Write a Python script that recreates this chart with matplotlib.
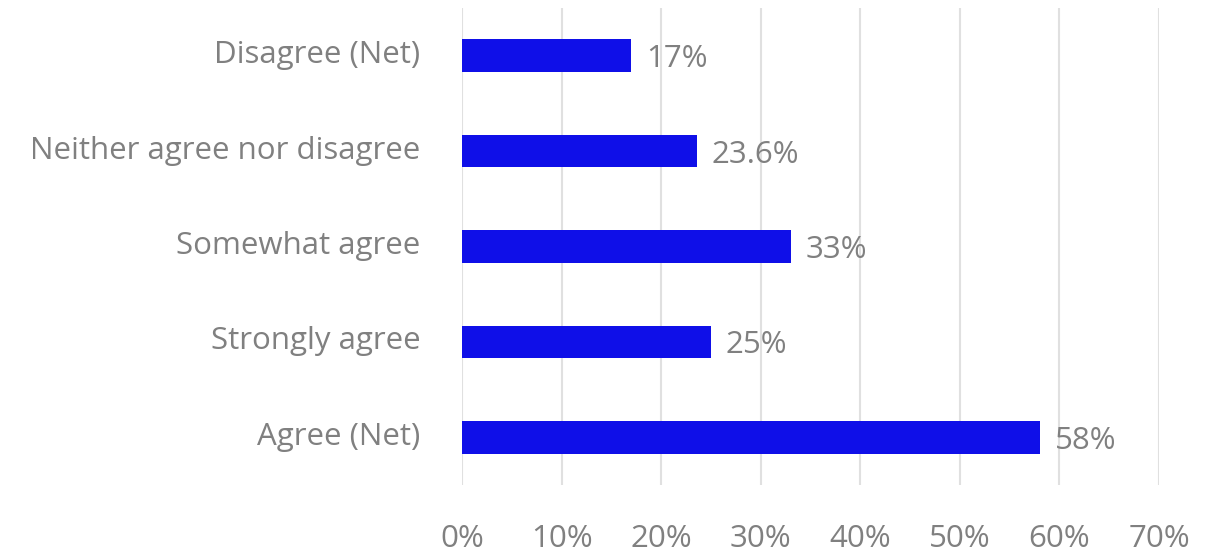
import matplotlib
matplotlib.use("Agg")
import matplotlib.pyplot as plt
from matplotlib.ticker import FuncFormatter
from matplotlib.transforms import ScaledTranslation

categories = ["Agree (Net)", "Strongly agree", "Somewhat agree",
              "Neither agree nor disagree", "Disagree (Net)"]
values = [58, 25, 33, 23.6, 17]
value_labels = ["58%", "25%", "33%", "23.6%", "17%"]
x_ticks = [0, 10, 20, 30, 40, 50, 60, 70]

plt.rcParams["font.family"] = ["Open Sans", "DejaVu Sans"]
text_color = "#808080"
bar_color = "#0f0fe8"
font_size = 22.5

fig = plt.figure(figsize=(12.09, 5.52), dpi=100)
ax = fig.add_axes([0.3821, 0.1214, 0.5766, 0.8641])

pos = list(range(len(categories)))
ax.barh(pos, values, height=0.34, color=bar_color, zorder=3)

for p, v, lab in zip(pos, values, value_labels):
    ax.text(v + 1.5, p, lab, va="center_baseline", ha="left",
            fontsize=font_size, color=text_color)

ax.set_xlim(0, 70)
ax.set_ylim(-0.5, len(categories) - 0.5)
ax.set_xticks(x_ticks)
ax.xaxis.set_major_formatter(FuncFormatter(lambda x, _: f"{x:.0f}%"))
ax.set_yticks(pos)
ax.set_yticklabels(categories)

ax.grid(axis="x", color="#e0e0e0", linewidth=1.5, zorder=0)
ax.grid(axis="y", visible=False)
for s in ax.spines.values():
    s.set_visible(False)

ax.tick_params(axis="x", length=0, pad=28, labelsize=font_size, labelcolor=text_color)
ax.tick_params(axis="y", length=0, pad=30, labelsize=font_size, labelcolor=text_color)

# nudge the category labels slightly upward
lift = ScaledTranslation(0, 4 / 100, fig.dpi_scale_trans)
for t in ax.get_yticklabels():
    t.set_transform(t.get_transform() + lift)

fig.savefig("out.png", dpi=100)
